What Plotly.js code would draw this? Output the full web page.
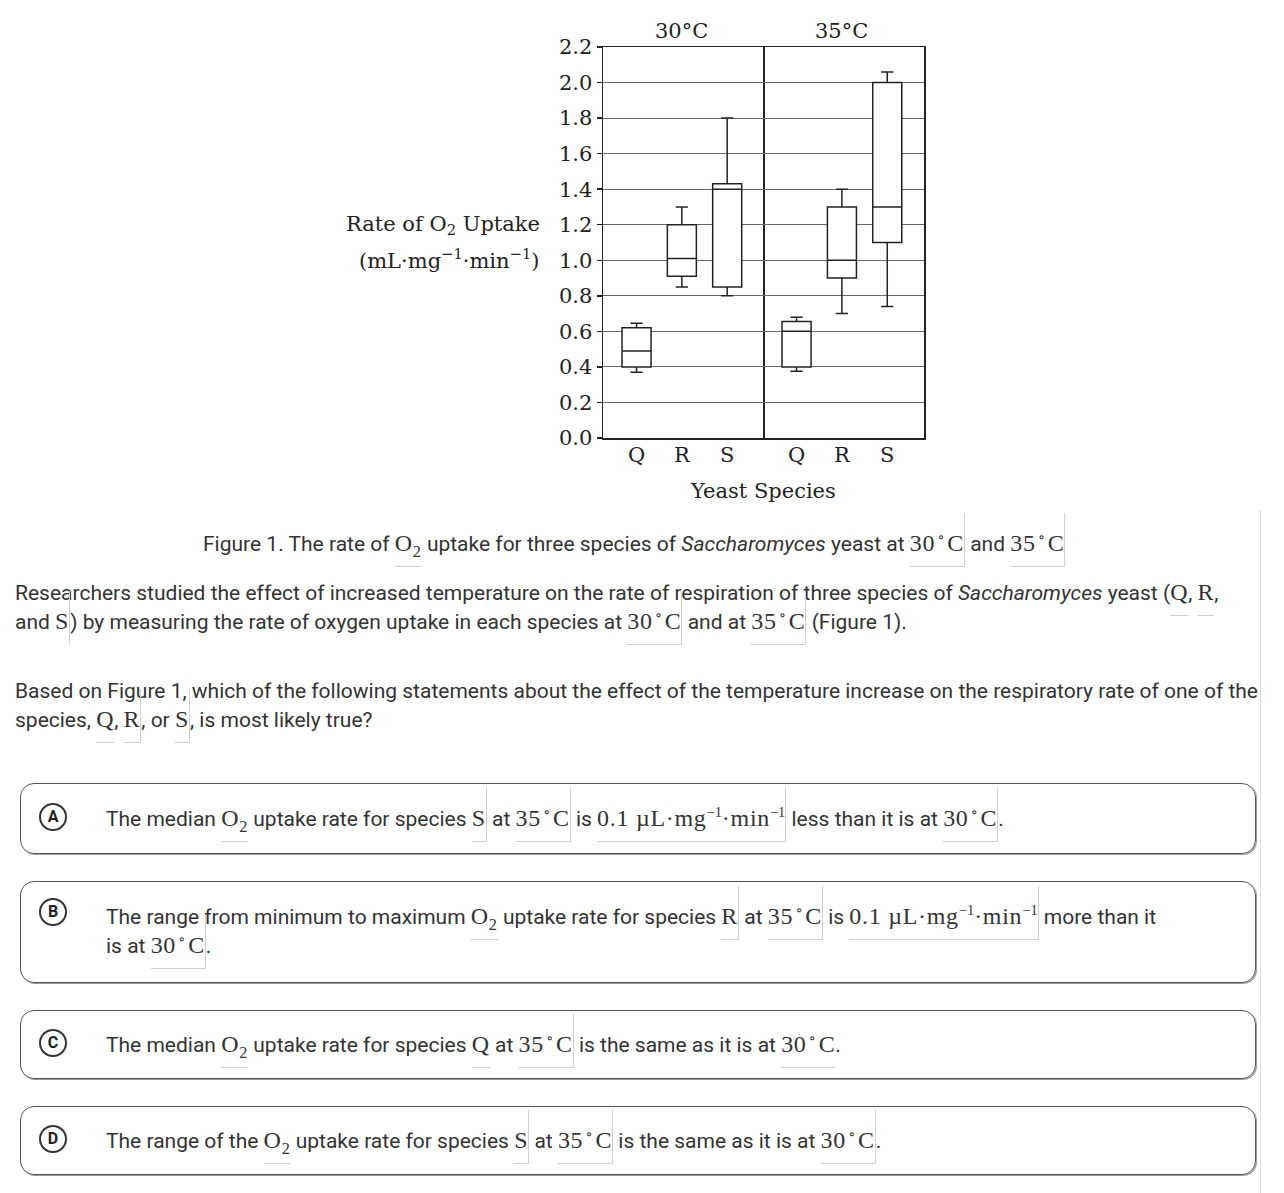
<!DOCTYPE html>
<html>
<head>
<meta charset="utf-8">
<script src="https://cdn.plot.ly/plotly-3.0.1.min.js"></script>
<style>
  html, body { margin:0; padding:0; background:#fff; }
  body { width:1284px; height:1193px; position:relative; overflow:hidden; font-family: Roboto, "Noto Sans", sans-serif; color:#333; }
  #chart { position:absolute; left:0; top:0; width:1284px; height:510px; }
  .t { position:absolute; font-size:21px; line-height:28px; white-space:nowrap; }
  .m { font-family:"Liberation Serif", "DejaVu Serif", serif; font-size:24px; letter-spacing:0.7px; color:#333; }
  .m sup { font-size:0.6em; line-height:0; letter-spacing:0; }
  .m sup.deg { margin:0 3px 0 2px; }
  .m sub { font-size:0.68em; line-height:0; }
  .b { display:inline-block; border-bottom:1px solid #d0d0d0; padding-bottom:9px; margin-bottom:-9px; }
  .rb { display:inline-block; border-bottom:1px solid #d0d0d0; border-right:1px solid #d0d0d0; padding-top:16px; margin-top:-16px; padding-bottom:9px; margin-bottom:-9px; }
  .r { display:inline-block; border-right:1px solid #d0d0d0; padding-top:16px; margin-top:-16px; padding-bottom:9px; margin-bottom:-9px; }
  .vline { position:absolute; left:1260px; top:0; width:1px; height:1193px; background:#dcdcdc; }
  .box { position:absolute; left:20px; width:1236px; border:1.5px solid #555; border-radius:14px; box-shadow:1px 1px 0 #999; box-sizing:border-box; }
  .circ { position:absolute; left:39px; width:24px; height:24px; border:2.5px solid #333; border-radius:50%; font-weight:bold; font-size:16px; line-height:24px; text-align:center; color:#222; font-family: Roboto, sans-serif; }
</style>
</head>
<body>
<div class="vline"></div>
<div id="chart"></div>

<div class="t" style="left:203px; top:529px;">Figure 1. The rate of <span class="m b">O<sub>2</sub></span> uptake for three species of <i>Saccharomyces</i> yeast at <span class="m rb">30<sup class="deg">∘</sup>C</span> and <span class="m rb">35<sup class="deg">∘</sup>C</span></div>

<div class="t" style="left:15px; top:578px;">Researchers studied the effect of increased temperature on the rate of respiration of three species of <i>Saccharomyces</i> yeast (<span class="m b">Q</span>, <span class="m b">R</span>,<br>and <span class="m r">S</span>) by measuring the rate of oxygen uptake in each species at <span class="m rb">30<sup class="deg">∘</sup>C</span> and at <span class="m rb">35<sup class="deg">∘</sup>C</span> (Figure 1).</div>

<div class="t" style="left:15px; top:677px;">Based on Figure 1, which of the following statements about the effect of the temperature increase on the respiratory rate of one of the<br>species, <span class="m b">Q</span>, <span class="m rb">R</span>, or <span class="m rb">S</span>, is most likely true?</div>

<div class="box" style="top:783px; height:71px;"></div>
<div class="circ" style="top:803px;">A</div>
<div class="t" style="left:106px; top:804px;">The median <span class="m b">O<sub>2</sub></span> uptake rate for species <span class="m rb">S</span> at <span class="m rb">35<sup class="deg">∘</sup>C</span> is <span class="m rb">0.1 µL·mg<sup>−1</sup>·min<sup>−1</sup></span> less than it is at <span class="m rb">30<sup class="deg">∘</sup>C</span>.</div>

<div class="box" style="top:881px; height:102px;"></div>
<div class="circ" style="top:898px;">B</div>
<div class="t" style="left:106px; top:902px;">The range from minimum to maximum <span class="m b">O<sub>2</sub></span> uptake rate for species <span class="m rb">R</span> at <span class="m rb">35<sup class="deg">∘</sup>C</span> is <span class="m rb">0.1 µL·mg<sup>−1</sup>·min<sup>−1</sup></span> more than it<br>is at <span class="m rb">30<sup class="deg">∘</sup>C</span>.</div>

<div class="box" style="top:1010px; height:69px;"></div>
<div class="circ" style="top:1029px;">C</div>
<div class="t" style="left:106px; top:1030px;">The median <span class="m b">O<sub>2</sub></span> uptake rate for species <span class="m b">Q</span> at <span class="m rb">35<sup class="deg">∘</sup>C</span> is the same as it is at <span class="m b">30<sup class="deg">∘</sup>C</span>.</div>

<div class="box" style="top:1106px; height:69px;"></div>
<div class="circ" style="top:1125px;">D</div>
<div class="t" style="left:106px; top:1126px;">The range of the <span class="m b">O<sub>2</sub></span> uptake rate for species <span class="m rb">S</span> at <span class="m rb">35<sup class="deg">∘</sup>C</span> is the same as it is at <span class="m rb">30<sup class="deg">∘</sup>C</span>.</div>

<script>
// ---- data ----
const species = ['Q', 'R', 'S'];
const panelLabels = ['30°C', '35°C'];

const lower30  = [0.37, 0.85, 0.80];
const q1_30    = [0.40, 0.91, 0.85];
const median30 = [0.49, 1.01, 1.40];
const q3_30    = [0.62, 1.20, 1.43];
const upper30  = [0.645, 1.30, 1.80];

const lower35  = [0.375, 0.70, 0.74];
const q1_35    = [0.40, 0.90, 1.10];
const median35 = [0.60, 1.00, 1.30];
const q3_35    = [0.655, 1.30, 2.00];
const upper35  = [0.68, 1.40, 2.06];

const yTickVals = [0, 0.2, 0.4, 0.6, 0.8, 1.0, 1.2, 1.4, 1.6, 1.8, 2.0, 2.2];
const yTickText = ['0.0','0.2','0.4','0.6','0.8','1.0','1.2','1.4','1.6','1.8','2.0','2.2'];

const serif = '"DejaVu Serif", "Liberation Serif", serif';
const ink = '#222';

const boxStyle = {
  type: 'box', boxpoints: false, fillcolor: '#ffffff',
  line: { color: ink, width: 1.5 }, whiskerwidth: 0.42, width: 0.64,
  hoverinfo: 'skip', showlegend: false
};

const traces = [
  Object.assign({}, boxStyle, { x: species, lowerfence: lower30, q1: q1_30, median: median30, q3: q3_30, upperfence: upper30, xaxis: 'x', yaxis: 'y' }),
  Object.assign({}, boxStyle, { x: species, lowerfence: lower35, q1: q1_35, median: median35, q3: q3_35, upperfence: upper35, xaxis: 'x2', yaxis: 'y2' })
];

const split = 160 / 321;
const pH = 438 - 47;

const xCommon = {
  type: 'category', categoryarray: species, showline: true, mirror: true,
  linecolor: ink, linewidth: 1.5, ticks: '', showgrid: false, zeroline: false,
  ticklabelstandoff: -3,
  tickfont: { family: serif, size: 21, color: ink }, fixedrange: true
};
const yCommon = {
  range: [0, 2.2], tickvals: yTickVals, showline: true,
  linecolor: ink, linewidth: 1.5, showgrid: true, gridcolor: '#6a6a6a', gridwidth: 1,
  zeroline: false, fixedrange: true
};

const lblFont = { family: serif, size: 21, color: ink };

const layout = {
  width: 1284, height: 510,
  margin: { l: 603, r: 360, t: 47, b: 72 },
  paper_bgcolor: '#ffffff', plot_bgcolor: '#ffffff',
  boxmode: 'overlay',
  font: { family: serif, color: ink },
  xaxis: Object.assign({}, xCommon, { domain: [0, split], anchor: 'y', range: [-0.74, 2.79] }),
  xaxis2: Object.assign({}, xCommon, { domain: [split, 1], anchor: 'y2', range: [-0.74, 2.81] }),
  yaxis: Object.assign({}, yCommon, { anchor: 'x', mirror: true, ticktext: yTickText, ticks: 'outside', ticklen: 5, tickwidth: 1.5, tickcolor: ink,
    ticklabelstandoff: 0, tickfont: { family: serif, size: 21, color: ink } }),
  yaxis2: Object.assign({}, yCommon, { anchor: 'x2', side: 'right', mirror: false, matches: 'y', showticklabels: false, ticks: '' }),
  annotations: [
    { text: panelLabels[0], xref: 'x', x: 1, yref: 'paper', y: 1 + (47 - 31) / pH, yanchor: 'middle', showarrow: false, font: lblFont },
    { text: panelLabels[1], xref: 'x2', x: 1, yref: 'paper', y: 1 + (47 - 31) / pH, yanchor: 'middle', showarrow: false, font: lblFont },
    { text: 'Rate of O<sub>2</sub> Uptake', xref: 'paper', x: (443 - 603) / 321, xanchor: 'center',
      yref: 'paper', y: (438 - 225) / pH, yanchor: 'middle', showarrow: false, font: lblFont },
    { text: '(mL·mg<sup>−1</sup>·min<sup>−1</sup>)', xref: 'paper', x: (449 - 603) / 321, xanchor: 'center',
      yref: 'paper', y: (438 - 259) / pH, yanchor: 'middle', showarrow: false, font: lblFont },
    { text: 'Yeast Species', xref: 'paper', x: split, xanchor: 'center', yref: 'paper', y: -(491 - 438) / pH, yanchor: 'middle',
      showarrow: false, font: lblFont }
  ]
};

Plotly.newPlot('chart', traces, layout, { staticPlot: true, displayModeBar: false });
</script>
</body>
</html>
